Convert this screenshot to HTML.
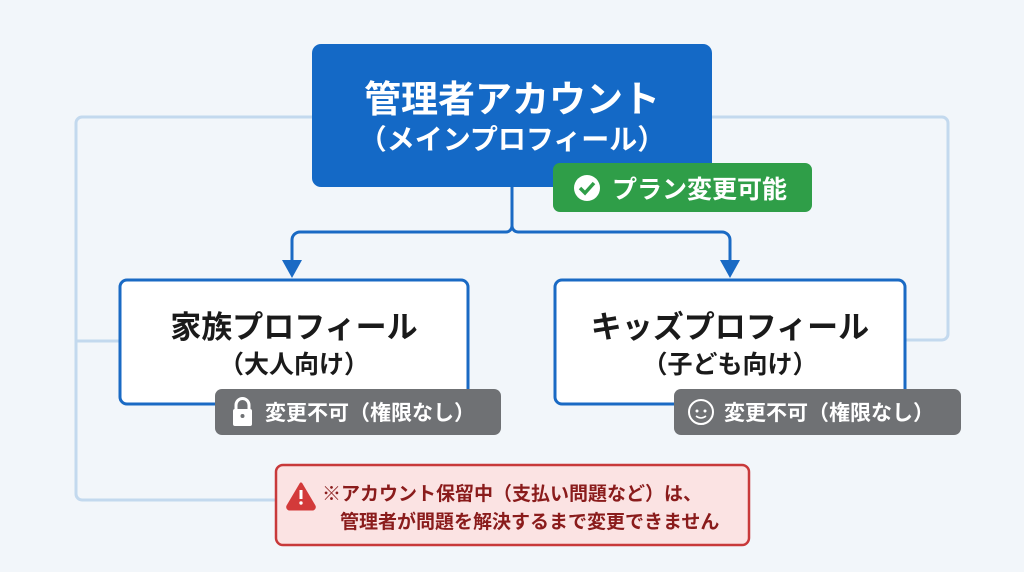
<!DOCTYPE html>
<html><head><meta charset="utf-8"><style>
html,body{margin:0;padding:0;background:#f2f6fa;}
svg{display:block}
text{font-family:"Liberation Sans","Noto Sans CJK JP",sans-serif;font-weight:bold;}
</style></head><body>
<svg width="1024" height="572" viewBox="0 0 1024 572" xmlns="http://www.w3.org/2000/svg">
<rect width="1024" height="572" fill="#f2f6fa"/>
<g fill="none" stroke="#c3d9ee" stroke-width="3">
<path d="M312 117 H82 a6 6 0 0 0 -6 6 V494 a6 6 0 0 0 6 6 H276"/>
<path d="M76 341 H120"/>
<path d="M712 117 H942 a6 6 0 0 1 6 6 V334 a6 6 0 0 1 -6 6 H905"/>
</g>
<g fill="none" stroke="#1a6ac4" stroke-width="3">
<path d="M512 187 V226 a6 6 0 0 1 -6 6 H300 a8 8 0 0 0 -8 8 V262"/>
<path d="M512 187 V226 a6 6 0 0 0 6 6 H722 a8 8 0 0 1 8 8 V262"/>
</g>
<path d="M282 260 L302 260 L292 278 Z" fill="#1a6ac4"/>
<path d="M720 260 L740 260 L730 278 Z" fill="#1a6ac4"/>
<rect x="312" y="44" width="400" height="143" rx="9" fill="#1469c6"/>
<text x="512" y="112" text-anchor="middle" fill="#fff" font-size="37">管理者アカウント</text>
<text x="512" y="149" text-anchor="middle" fill="#fff" font-size="28">（メインプロフィール）</text>
<rect x="553" y="163" width="259" height="49" rx="7" fill="#2f9e48"/>
<circle cx="587" cy="188" r="13" fill="#fff"/>
<path d="M580 188 l5 5 l9 -10" stroke="#2f9e48" stroke-width="3.5" fill="none"/>
<text x="612" y="198" fill="#fff" font-size="25">プラン変更可能</text>
<rect x="120" y="280" width="348" height="124" rx="7" fill="#fff" stroke="#1a6ac4" stroke-width="3"/>
<text x="294" y="338" text-anchor="middle" fill="#1a1a1a" font-size="31">家族プロフィール</text>
<text x="294" y="373" text-anchor="middle" fill="#1a1a1a" font-size="25">（大人向け）</text>
<rect x="555" y="280" width="350" height="124" rx="7" fill="#fff" stroke="#1a6ac4" stroke-width="3"/>
<text x="730" y="338" text-anchor="middle" fill="#1a1a1a" font-size="31">キッズプロフィール</text>
<text x="730" y="373" text-anchor="middle" fill="#1a1a1a" font-size="25">（子ども向け）</text>
<rect x="215" y="389" width="286" height="46" rx="7" fill="#6f7174"/>
<rect x="233" y="409" width="19" height="17" rx="2" fill="#fff"/>
<path d="M236 410 v-5 a6.5 6.5 0 0 1 13 0 v5" stroke="#fff" stroke-width="3" fill="none"/>
<circle cx="242.5" cy="416" r="2" fill="#6f7174"/>
<text x="265" y="420" fill="#fff" font-size="21">変更不可（権限なし）</text>
<rect x="674" y="389" width="287" height="46" rx="7" fill="#6f7174"/>
<circle cx="701" cy="412" r="12" fill="none" stroke="#fff" stroke-width="2"/>
<circle cx="697" cy="411" r="1.5" fill="#fff"/><circle cx="705" cy="411" r="1.5" fill="#fff"/>
<path d="M696 416 q5 4 10 0" stroke="#fff" stroke-width="1.5" fill="none"/>
<text x="724" y="420" fill="#fff" font-size="21">変更不可（権限なし）</text>
<rect x="276" y="465" width="473" height="80" rx="7" fill="#fbe3e3" stroke="#c8393a" stroke-width="2.5"/>
<path d="M301 484 L314 506 a2 2 0 0 1 -2 3 H290 a2 2 0 0 1 -2 -3 Z" fill="#d33a3a" stroke="#d33a3a" stroke-width="3" stroke-linejoin="round"/>
<rect x="299.5" y="490" width="3" height="9" fill="#fff"/><circle cx="301" cy="503" r="1.7" fill="#fff"/>
<text x="322" y="500" fill="#8a1c1c" font-size="19">※アカウント保留中（支払い問題など）は、</text>
<text x="340" y="528" fill="#8a1c1c" font-size="19">管理者が問題を解決するまで変更できません</text>
</svg>
</body></html>
